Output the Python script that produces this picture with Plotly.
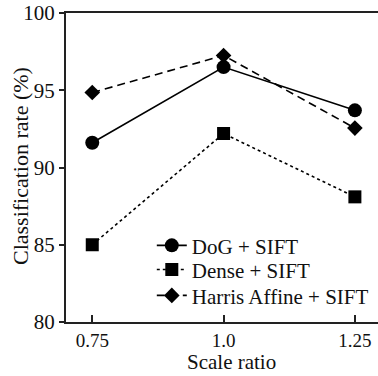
import plotly.graph_objects as go

scale_ratio = [0.75, 1.0, 1.25]
tick_labels = ["0.75", "1.0", "1.25"]
dog_sift = [91.6, 96.5, 93.7]
dense_sift = [85.0, 92.2, 88.1]
harris_sift = [94.85, 97.25, 92.55]
x_title = "Scale ratio"
y_title = "Classification rate (%)"

font = "Liberation Serif, Times New Roman, serif"
fig = go.Figure()
fig.add_trace(go.Scatter(x=scale_ratio, y=dog_sift, name="DoG + SIFT", mode="lines+markers",
                         line=dict(color="black", width=1.6, dash="solid"),
                         marker=dict(symbol="circle", size=14, color="black"), legend="legend"))
fig.add_trace(go.Scatter(x=scale_ratio, y=dense_sift, name="Dense + SIFT", mode="lines+markers",
                         line=dict(color="black", width=1.6, dash="dot"),
                         marker=dict(symbol="square", size=13, color="black"), legend="legend2"))
fig.add_trace(go.Scatter(x=scale_ratio, y=harris_sift, name="Harris Affine + SIFT", mode="lines+markers",
                         line=dict(color="black", width=1.6, dash="8px,5px"),
                         marker=dict(symbol="diamond", size=12, color="black"), legend="legend3"))

leg = dict(x=0.275, xanchor="left", yanchor="middle", bgcolor="rgba(0,0,0,0)",
           font=dict(family=font, size=21, color="#111"), borderwidth=0)
fig.update_layout(
    width=378, height=376,
    margin=dict(l=66, r=0, t=13, b=54),
    paper_bgcolor="white", plot_bgcolor="white",
    font=dict(family=font, size=21, color="#111"),
    showlegend=True,
    legend=dict(leg, y=0.247),
    legend2=dict(leg, y=0.169),
    legend3=dict(leg, y=0.085),
    annotations=[
        dict(text=x_title, xref="paper", yref="paper", x=0.529, y=-0.1715,
             xanchor="center", yanchor="bottom", showarrow=False, borderpad=0,
             font=dict(family=font, size=21, color="#111")),
        dict(text=y_title, xref="paper", yref="paper", x=-0.144, y=0.505,
             xanchor="center", yanchor="middle", showarrow=False, textangle=-90,
             font=dict(family=font, size=22, color="#111")),
    ],
)
fig.update_xaxes(range=[0.7, 1.294], tickvals=scale_ratio, ticktext=tick_labels,
                 showline=True, linecolor="#222", linewidth=2, mirror=True,
                 ticks="inside", ticklen=7, tickwidth=1.5, tickcolor="#222",
                 showgrid=False, zeroline=False,
                 tickfont=dict(family=font, size=19))
fig.update_yaxes(range=[80, 100], tickvals=[80, 85, 90, 95, 100],
                 showline=True, linecolor="#222", linewidth=2, mirror=False,
                 ticks="outside", ticklen=5, tickwidth=1.5, tickcolor="#222",
                 showgrid=False, zeroline=False,
                 tickfont=dict(family=font, size=21))
fig.write_html("out.html")
